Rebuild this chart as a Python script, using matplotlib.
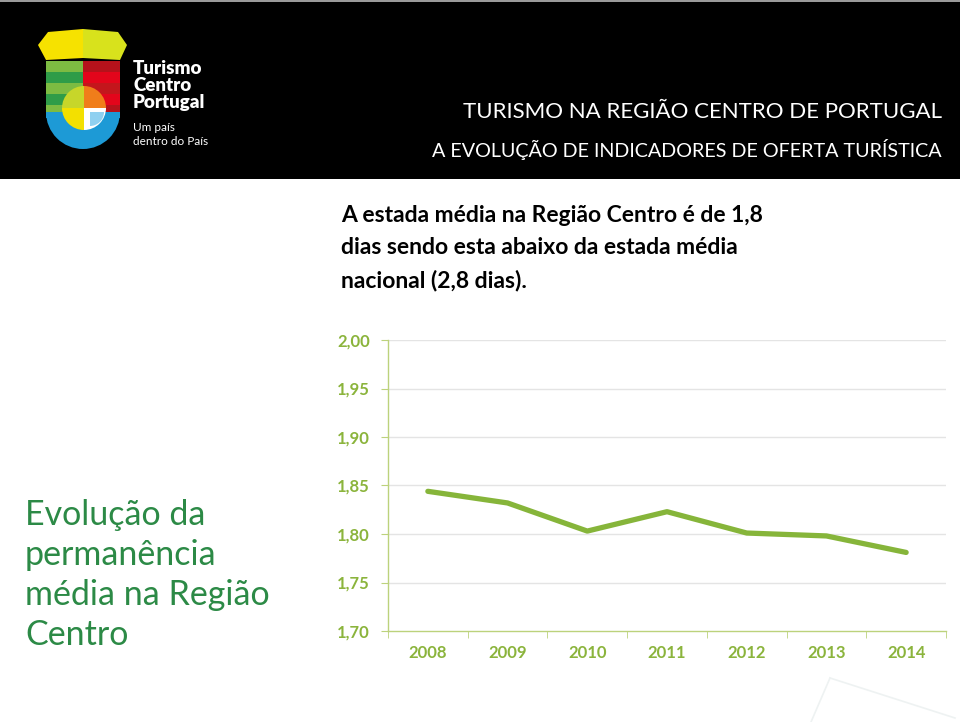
import matplotlib
matplotlib.use("Agg")
import matplotlib.pyplot as plt
from matplotlib.patches import Rectangle, Polygon, Wedge
import numpy as np

# ---- data ----
years = ["2008", "2009", "2010", "2011", "2012", "2013", "2014"]
stay = [1.844, 1.832, 1.803, 1.823, 1.801, 1.798, 1.781]
yticks = [1.70, 1.75, 1.80, 1.85, 1.90, 1.95, 2.00]
ytick_labels = ["1,70", "1,75", "1,80", "1,85", "1,90", "1,95", "2,00"]

title1 = "TURISMO NA REGIÃO CENTRO DE PORTUGAL"
title2 = "A EVOLUÇÃO DE INDICADORES DE OFERTA TURÍSTICA"
para = ["A estada média na Região Centro é de 1,8",
        "dias sendo esta abaixo da estada média",
        "nacional (2,8 dias)."]
side = ["Evolução da", "permanência", "média na Região", "Centro"]

W, H = 960, 722
fig = plt.figure(figsize=(W / 100, H / 100), dpi=100)
fig.patch.set_facecolor("white")

# ---- overlay axes in pixel coordinates ----
ov = fig.add_axes([0, 0, 1, 1])
ov.set_xlim(0, W)
ov.set_ylim(H, 0)
ov.axis("off")

ov.add_patch(Rectangle((0, 0), W, 179, facecolor="black", edgecolor="none"))
ov.add_patch(Rectangle((0, 0), W, 2, facecolor="#9a9a9a", edgecolor="none"))

# logo (simplified shield)
ov.add_patch(Polygon([(38, 45), (48, 32), (83, 29), (83, 58), (46, 60)],
                     closed=True, facecolor="#f6e200", edgecolor="none"))
ov.add_patch(Polygon([(83, 29), (118, 32), (127, 45), (120, 60), (83, 58)],
                     closed=True, facecolor="#d8e21c", edgecolor="none"))
greens = ["#7dbb42", "#2f9c48", "#7dbb42", "#2f9c48", "#7dbb42"]
for i, c in enumerate(greens):
    ov.add_patch(Rectangle((46, 61 + i * 11), 37, 11, facecolor=c, edgecolor="none"))
reds = ["#b5121b", "#e3051b", "#c3161c", "#e3051b", "#b5121b"]
for i, c in enumerate(reds):
    ov.add_patch(Rectangle((83, 61 + i * 11), 37, 11, facecolor=c, edgecolor="none"))
ov.add_patch(Wedge((83, 112), 37, 0, 180, facecolor="#1d9ad6", edgecolor="none"))
ov.add_patch(Rectangle((46, 112), 74, 6, facecolor="#1d9ad6", edgecolor="none"))
ov.add_patch(Wedge((84, 108), 22, 90, 180, facecolor="#f3e000", edgecolor="none"))
ov.add_patch(Wedge((84, 108), 22, 180, 270, facecolor="#c7d62a", edgecolor="none"))
ov.add_patch(Wedge((84, 108), 22, 270, 360, facecolor="#f07d1a", edgecolor="none"))
ov.add_patch(Wedge((84, 108), 22, 0, 90, facecolor="#ffffff", edgecolor="none"))
ov.add_patch(Wedge((90, 112), 14, 0, 90, facecolor="#8fd0f0", edgecolor="none"))

ov.text(133, 74, "Turismo", color="white", fontsize=13.5, fontweight="heavy",
        family="Lato", va="baseline")
ov.text(133, 91, "Centro", color="white", fontsize=13.5, fontweight="heavy",
        family="Lato", va="baseline")
ov.text(133, 108, "Portugal", color="white", fontsize=13.5, fontweight="heavy",
        family="Lato", va="baseline")
ov.text(133, 131, "Um país", color="white", fontsize=8.5, family="Lato", va="baseline")
ov.text(133, 145, "dentro do País", color="white", fontsize=8.5, family="Lato", va="baseline")

ov.text(942, 118, title1, color="white", fontsize=16, family="Lato",
        ha="right", va="baseline")
ov.text(942, 157, title2, color="white", fontsize=14.25, family="Lato",
        ha="right", va="baseline")

for i, line in enumerate(para):
    ov.text(341, 222 + i * 32.5, line, color="black", fontsize=16.5, family="Lato",
            fontweight="bold", va="baseline")

for i, line in enumerate(side):
    ov.text(25, 525 + i * 40, line, color="#2c8a46", fontsize=24.5, family="Lato",
            va="baseline")

# faint decoration bottom right
ov.plot([830, 811], [678, 722], color="#eef2f2", lw=1.2)
ov.plot([830, 955], [678, 718], color="#eef2f2", lw=1.2)

# ---- chart axes ----
left, right, top, bottom = 388, 946, 340, 631
ax = fig.add_axes([left / W, (H - bottom) / H, (right - left) / W, (bottom - top) / H])
ax.patch.set_alpha(0)
x = np.arange(len(years))
ax.plot(x, stay, color="#86b53a", lw=3.8, solid_capstyle="round", solid_joinstyle="round",
        zorder=3)
ax.set_xlim(-0.5, len(years) - 0.5)
ax.set_ylim(yticks[0], yticks[-1])
ax.set_yticks(yticks)
ax.set_yticklabels(ytick_labels)
ax.set_xticks(x)
ax.set_xticklabels(years)
ax.set_xticks(np.arange(-0.5, len(years)), minor=True)
for y in yticks[1:]:
    ax.axhline(y, color="#e4e4e4", lw=1.0, zorder=1)
for s in ["top", "right"]:
    ax.spines[s].set_visible(False)
for s in ["left", "bottom"]:
    ax.spines[s].set_color("#bcd27c")
    ax.spines[s].set_linewidth(1.0)
ax.tick_params(axis="y", length=5, color="#bcd27c", labelcolor="#8bb43c", pad=8)
ax.tick_params(axis="x", which="major", length=0, labelcolor="#8bb43c", pad=10)
ax.tick_params(axis="x", which="minor", length=5, color="#bcd27c")
for lab in ax.get_xticklabels() + ax.get_yticklabels():
    lab.set_fontfamily("Lato")
    lab.set_fontweight("bold")
    lab.set_fontsize(12)

fig.savefig("out.png", dpi=100, facecolor="white")
